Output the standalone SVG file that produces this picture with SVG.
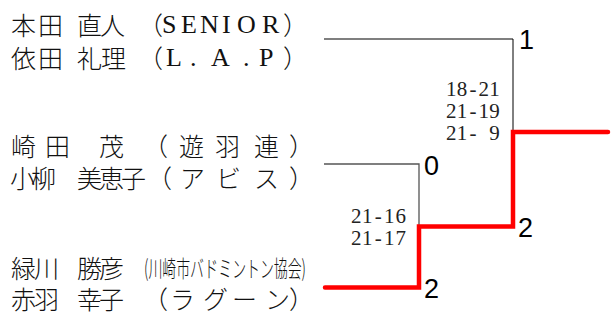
<svg xmlns="http://www.w3.org/2000/svg" width="615" height="321" viewBox="0 0 615 321">
<style>
.n{font-family:"Noto Sans CJK JP",sans-serif;font-size:25px;font-weight:300;fill:#111}
.l{font-family:"Liberation Serif",serif;font-size:26px;font-weight:400}
.s{font-family:"Liberation Serif",serif;font-size:21px;fill:#222}
.r{font-family:"Liberation Sans",Arial,sans-serif;font-size:27px;fill:#000}
.g{fill:none;stroke:#555;stroke-width:1.3}
.k{fill:none;stroke:#000;stroke-width:1}
.w{fill:none;stroke:#f00;stroke-width:4.5;stroke-linecap:round;stroke-linejoin:miter}
</style>
<rect width="615" height="321" fill="#fff"/>
<g id="connectors">
<path class="g" d="M324 39H513"/>
<path class="k" d="M513 39V132"/>
<path class="g" d="M324 164H419V226"/>
<path class="w" d="M608 132H513V226.5H419V287.5H325"/>
</g>
<g id="pair1">
<text class="n" y="35"><tspan x="11 38">本田</tspan><tspan x="77 100">直人</tspan><tspan x="138">（</tspan><tspan class="l" dy="-2" x="162 181 200 222 237 262">SENIOR</tspan><tspan dy="2" x="283">）</tspan></text>
<text class="n" y="68"><tspan x="11 38">依田</tspan><tspan x="77 101">礼理</tspan><tspan x="138">（</tspan><tspan class="l" dy="-2" x="166 190 211 243 259">L.A.P</tspan><tspan dy="2" x="283">）</tspan></text>
</g>
<g id="pair2">
<text class="n" y="156"><tspan x="11 45 99">崎田茂</tspan><tspan x="143 179 215 254 289">（遊羽連）</tspan></text>
<text class="n" y="188"><tspan x="10 31">小柳</tspan><tspan x="77 99 121">美恵子</tspan><tspan x="147 180 216 254 289">（アビス）</tspan></text>
</g>
<g id="pair3">
<text class="n" y="278"><tspan x="11 34">緑川</tspan><tspan x="77 99">勝彦</tspan></text>
<text class="n" x="144" y="277" style="font-size:23px" textLength="162" lengthAdjust="spacingAndGlyphs">(川崎市バドミントン協会)</text>
<text class="n" y="309"><tspan x="11 34">赤羽</tspan><tspan x="77 99">幸子</tspan><tspan x="143 170 203 232 265 289">（ラグーン）</tspan></text>
</g>
<g id="scores">
<text class="s" x="446 456.8 469.4 478.4 489.2" y="96">18-21</text>
<text class="s" x="446 456.8 469.4 478.4 489.2" y="118">21-19</text>
<text class="s" x="446 456.8 469.4 478.4 489.2" y="140">21- 9</text>
<text class="s" x="351 362 374.8 384 395.5" y="223">21-16</text>
<text class="s" x="351 362 374.8 384 395.5" y="245">21-17</text>
</g>
<g id="results">
<text class="r" x="519" y="49">1</text>
<text class="r" x="424" y="175">0</text>
<text class="r" x="518" y="237">2</text>
<text class="r" x="424" y="298">2</text>
</g>
</svg>
